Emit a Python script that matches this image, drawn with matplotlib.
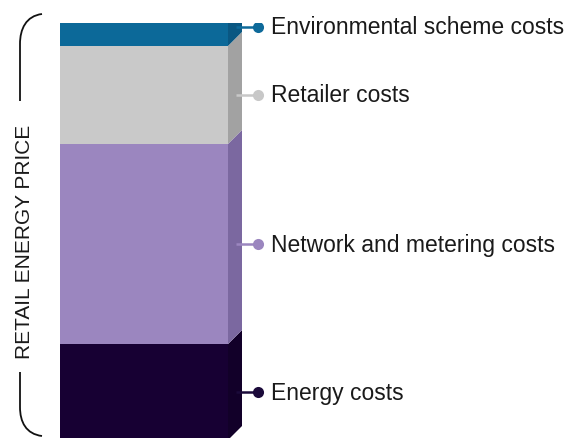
import matplotlib
matplotlib.use("Agg")
import matplotlib.pyplot as plt
from matplotlib.patches import Polygon, PathPatch
from matplotlib.path import Path
from matplotlib import font_manager as fm
import numpy as np

# ---- data ----
categories = ["Energy costs", "Network and metering costs", "Retailer costs", "Environmental scheme costs"]
shares = [23.0, 48.0, 23.5, 5.5]
front_colors = ["#170033", "#9b86bf", "#c9c9c9", "#0c6999"]
side_colors = ["#120029", "#7b68a0", "#a2a2a2", "#0a5782"]
dot_colors = ["#1b0a3a", "#9b86bf", "#c8c8c8", "#0e6a9a"]
top_color = "#3586b6"
bracket_label = "RETAIL ENERGY PRICE"

available = {f.name for f in fm.fontManager.ttflist}
if "Liberation Sans Narrow" in available:
    FONT = ["Liberation Sans Narrow", "DejaVu Sans"]
    label_size, side_size = 20, 18
else:
    FONT = ["Liberation Sans", "DejaVu Sans"]
    label_size, side_size = 16.5, 15

W, H = 566, 439
fig = plt.figure(figsize=(W / 100, H / 100), dpi=100)

# overlay axes in pixel coordinates
ov = fig.add_axes([0, 0, 1, 1])
ov.set_xlim(0, W)
ov.set_ylim(H, 0)
ov.axis("off")

# data axes: value 0 at px 441, value 100 at px 24
y0_px, y100_px = 441, 24
ax = fig.add_axes([0, (H - y0_px) / H, 1, (y0_px - y100_px) / H])
ax.set_xlim(0, W)
ax.set_ylim(0, 100)
ax.axis("off")
ax.set_zorder(2)
ov.set_zorder(1)
ax.patch.set_alpha(0)

px_per_unit = (y0_px - y100_px) / 100.0
depth_x = 14
depth_y = 14 / px_per_unit

x_left, x_right = 60, 228
xc = (x_left + x_right) / 2
bw = x_right - x_left

bottoms = np.concatenate([[0], np.cumsum(shares)[:-1]])
ax.bar([xc] * len(shares), shares, width=bw, bottom=bottoms,
       color=front_colors, edgecolor="none", zorder=3)

# side faces
for b, v, c in zip(bottoms, shares, side_colors):
    poly = [(x_right, b), (x_right + depth_x, b + depth_y),
            (x_right + depth_x, b + v + depth_y), (x_right, b + v)]
    ax.add_patch(Polygon(poly, closed=True, facecolor=c, edgecolor="none", zorder=2))

# top face
top = bottoms[-1] + shares[-1]
ax.add_patch(Polygon([(x_left, top), (x_left + depth_x, top + depth_y),
                      (x_right + depth_x, top + depth_y), (x_right, top)],
                     closed=True, facecolor=top_color, edgecolor="none", zorder=3))

# connectors and labels
for i, (b, v, cat, dc) in enumerate(zip(bottoms, shares, categories, dot_colors)):
    ym = b + v / 2
    if i == len(shares) - 1:
        ym = b + v / 2 + depth_y * 0.55
    ax.plot([x_right + depth_x - 6, 258], [ym, ym], color=dc, lw=1.8, zorder=4,
            solid_capstyle="butt")
    ax.plot([258], [ym], marker="o", ms=8, color=dc, zorder=5, mec="none")
    ax.text(271, ym, cat, fontsize=label_size, family=FONT, color="#1a1a1a",
            va="center", ha="left", zorder=5)

# bracket on the left
lw = 1.3
top_path = Path([(20, 102), (20, 45), (20, 30), (26, 17), (42, 15)],
                [Path.MOVETO, Path.LINETO, Path.CURVE4, Path.CURVE4, Path.CURVE4])
ov.add_patch(PathPatch(top_path, facecolor="none", edgecolor="#111111", lw=lw))
bot_path = Path([(20, 373), (20, 408), (20, 423), (26, 435), (42, 437)],
                [Path.MOVETO, Path.LINETO, Path.CURVE4, Path.CURVE4, Path.CURVE4])
ov.add_patch(PathPatch(bot_path, facecolor="none", edgecolor="#111111", lw=lw))
ov.text(25, 242, bracket_label, rotation=90, fontsize=side_size, family=FONT,
        color="#1a1a1a", va="center", ha="center")

fig.savefig("out.png", dpi=100)
